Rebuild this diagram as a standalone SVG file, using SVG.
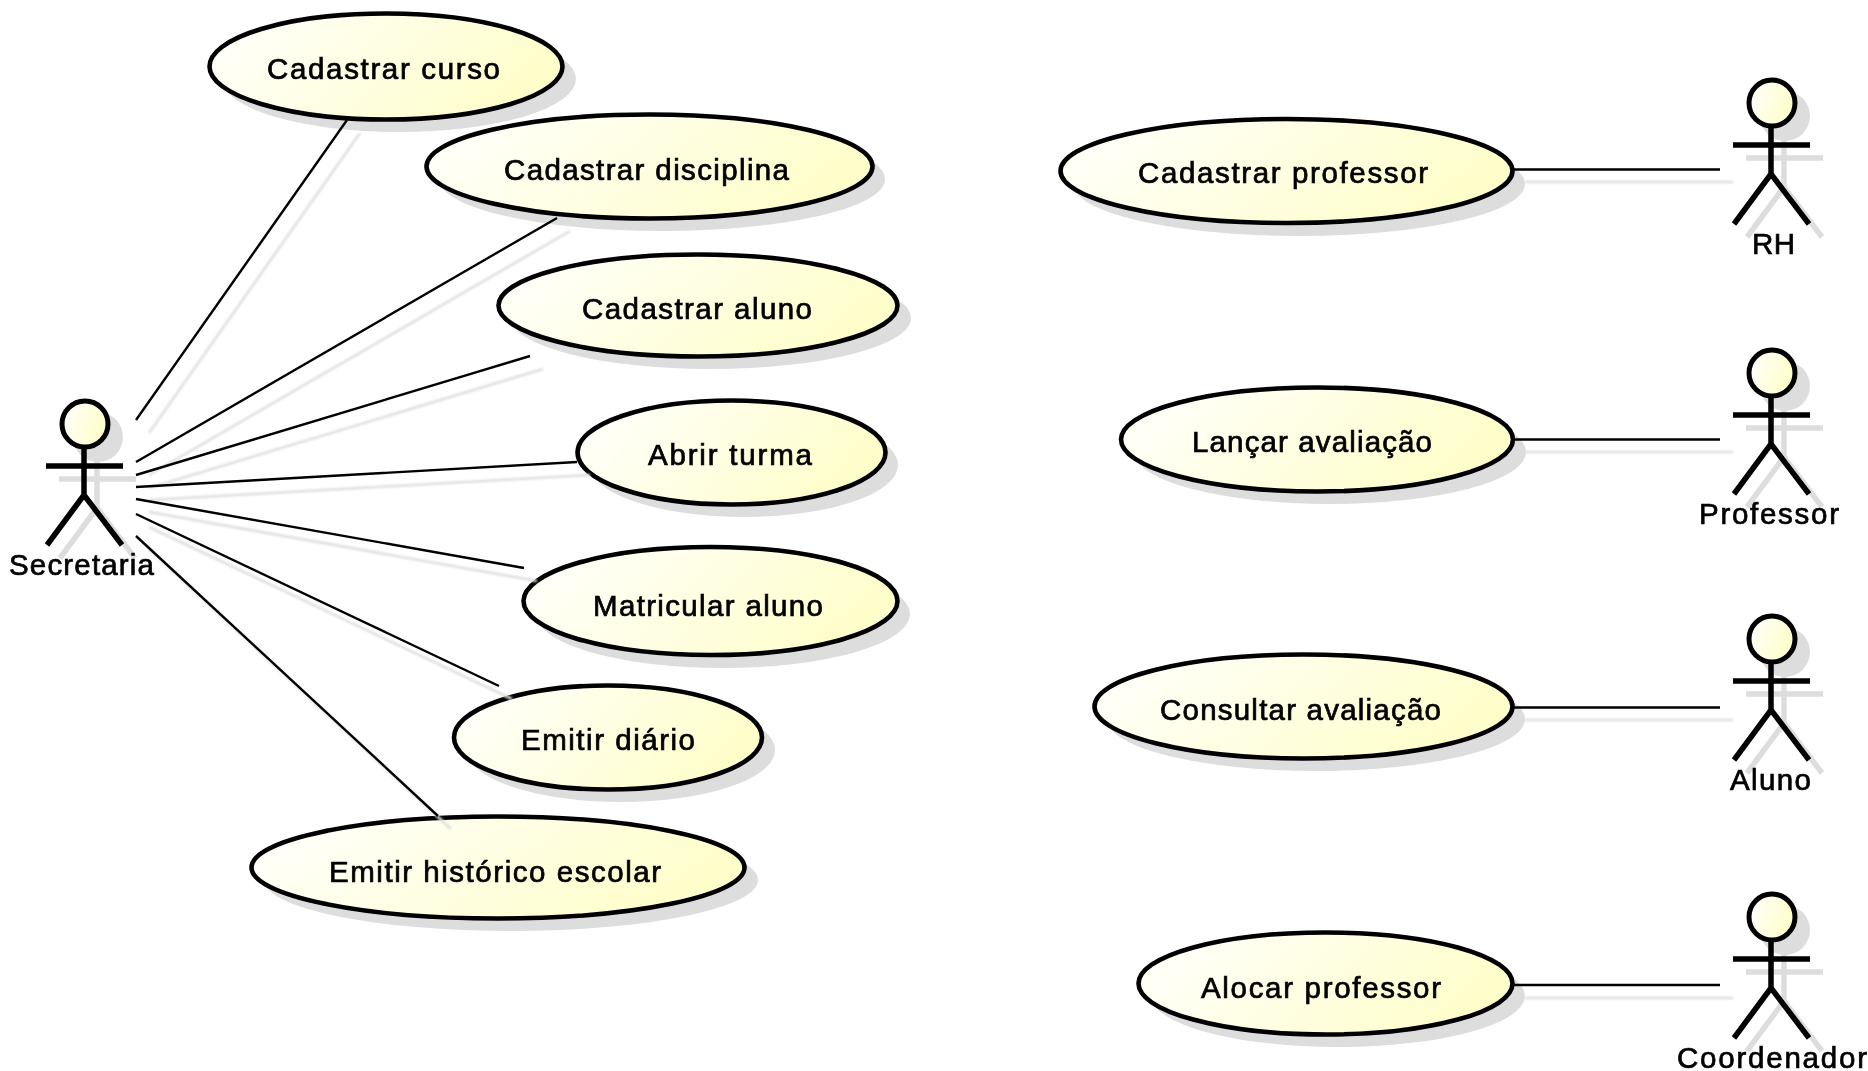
<svg xmlns="http://www.w3.org/2000/svg" width="1868" height="1071" viewBox="0 0 1868 1071">
<style>
.u{fill:url(#g);stroke:#000;stroke-width:4.6}
.s{fill:#ddd;stroke:none}
.cs{stroke:#dedede;stroke-width:2.5;fill:none}
.c{stroke:#000;stroke-width:2.4;fill:none}
.a{stroke:#000;stroke-width:5.5;fill:none}
.as{stroke:#ddd;stroke-width:5.5;fill:none}
.h{fill:url(#g);stroke:#000;stroke-width:5}
.hs{fill:#ddd;stroke:none}
text{font-family:"Liberation Sans",Arial,sans-serif;font-size:29.5px;fill:#000;stroke:#000;stroke-width:.7}
</style>
<defs>
<linearGradient id="g" x1="0" y1="0" x2="1" y2=".3"><stop offset="0" stop-color="#fff"/><stop offset="1" stop-color="#fefecb"/></linearGradient>
<filter id="b" x="-5%" y="-5%" width="110%" height="110%"><feGaussianBlur stdDeviation=".6"/></filter>
<filter id="b2" x="-5%" y="-5%" width="110%" height="110%"><feGaussianBlur stdDeviation=".8"/></filter>
<g id="act"><path d="M0 23V71M-38 42H39M0 71L-37 121M0 71L38 121"/></g>
</defs>
<rect width="1868" height="1071" fill="#fff"/>
<g filter="url(#b)">
<g id="cadastrar-curso"><ellipse class="s" cx="399" cy="79" rx="177" ry="53"/><ellipse class="u" cx="386" cy="66.500" rx="176.500" ry="53"/><text x="267" y="79" textLength="233">Cadastrar curso</text></g>
<g id="cadastrar-disciplina"><ellipse class="s" cx="662" cy="179" rx="223" ry="52"/><ellipse class="u" cx="649.500" cy="166.500" rx="223" ry="52"/><text x="504" y="180" textLength="285">Cadastrar disciplina</text></g>
<g id="cadastrar-aluno"><ellipse class="s" cx="711" cy="318" rx="200" ry="51"/><ellipse class="u" cx="698" cy="305.500" rx="199.500" ry="51"/><text x="582" y="319" textLength="230">Cadastrar aluno</text></g>
<g id="abrir-turma"><ellipse class="s" cx="744" cy="465" rx="154" ry="52"/><ellipse class="u" cx="731.500" cy="452.500" rx="154" ry="52"/><text x="648" y="465" textLength="164">Abrir turma</text></g>
<g id="matricular-aluno"><ellipse class="s" cx="723" cy="614" rx="187" ry="54"/><ellipse class="u" cx="710.500" cy="601" rx="187" ry="54"/><text x="593" y="616" textLength="230">Matricular aluno</text></g>
<g id="emitir-diario"><ellipse class="s" cx="621" cy="750" rx="154" ry="52"/><ellipse class="u" cx="608" cy="737.500" rx="154" ry="52"/><text x="521" y="750" textLength="174">Emitir diário</text></g>
<g id="emitir-historico"><ellipse class="s" cx="511" cy="880" rx="247" ry="51"/><ellipse class="u" cx="498" cy="867.500" rx="246.500" ry="51"/><text x="329" y="882" textLength="332">Emitir histórico escolar</text></g>
<g id="cadastrar-professor"><ellipse class="s" cx="1299" cy="184" rx="226" ry="52"/><ellipse class="u" cx="1286.500" cy="171" rx="226" ry="52"/><text x="1138" y="183" textLength="290">Cadastrar professor</text></g>
<g id="lancar-avaliacao"><ellipse class="s" cx="1330" cy="452" rx="196" ry="52"/><ellipse class="u" cx="1317" cy="439.500" rx="196" ry="52"/><text x="1192" y="452" textLength="240">Lançar avaliação</text></g>
<g id="consultar-avaliacao"><ellipse class="s" cx="1316" cy="719" rx="209" ry="52"/><ellipse class="u" cx="1303.500" cy="706.500" rx="209" ry="52"/><text x="1160" y="720" textLength="281">Consultar avaliação</text></g>
<g id="alocar-professor"><ellipse class="s" cx="1338" cy="996" rx="187" ry="51"/><ellipse class="u" cx="1325.500" cy="983.500" rx="187" ry="51"/><text x="1201" y="998" textLength="240">Alocar professor</text></g>
<g id="secretaria"><circle class="hs" cx="98" cy="437" r="25"/><use href="#act" x="97" y="437" class="as"/><use href="#act" x="84" y="424" class="a"/><circle class="h" cx="85" cy="424" r="23"/><text x="9" y="575" textLength="145">Secretaria</text></g>
<g id="rh"><circle class="hs" cx="1785" cy="116" r="25"/><use href="#act" x="1784" y="116" class="as"/><use href="#act" x="1771" y="103" class="a"/><circle class="h" cx="1772" cy="103" r="23"/><text x="1752" y="254" textLength="43">RH</text></g>
<g id="professor"><circle class="hs" cx="1785" cy="386" r="25"/><use href="#act" x="1784" y="386" class="as"/><use href="#act" x="1771" y="373" class="a"/><circle class="h" cx="1772" cy="373" r="23"/><text x="1699" y="524" textLength="140">Professor</text></g>
<g id="aluno"><circle class="hs" cx="1785" cy="652" r="25"/><use href="#act" x="1784" y="652" class="as"/><use href="#act" x="1771" y="639" class="a"/><circle class="h" cx="1772" cy="639" r="23"/><text x="1730" y="790" textLength="81">Aluno</text></g>
<g id="coordenador"><circle class="hs" cx="1785" cy="930" r="25"/><use href="#act" x="1784" y="930" class="as"/><use href="#act" x="1771" y="917" class="a"/><circle class="h" cx="1772" cy="917" r="23"/><text x="1677" y="1068" textLength="190">Coordenador</text></g>
<g id="connectors">
<path class="cs" filter="url(#b2)" d="M149 433L360 133M149 475L570 231M149 488L543 369M149 500L590 475M149 512L537 581M149 527L512 699M149 549L451 829"/>
<path class="cs" filter="url(#b2)" d="M1525 182H1733M1525 452H1733M1525 720H1733M1525 998H1733"/>
<path class="c" d="M136 420L347 120M136 462L557 218M136 475L530 356M136 487L577 462M136 499L524 568M136 514L499 686M136 536L438 816"/>
<path class="c" d="M1513 169.500H1720M1513 439.500H1720M1513 707.500H1720M1513 985H1720"/>
</g>
</g>
</svg>
